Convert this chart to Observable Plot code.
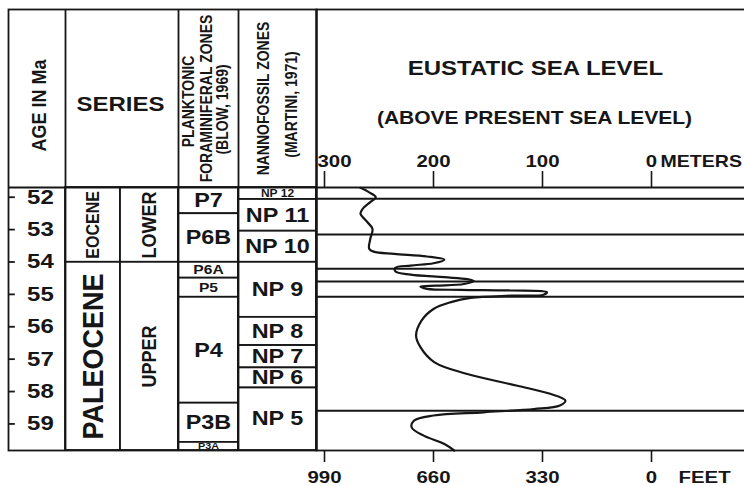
<!DOCTYPE html>
<html>
<head>
<meta charset="utf-8">
<script src="https://cdn.jsdelivr.net/npm/d3@7"></script>
<script src="https://cdn.jsdelivr.net/npm/@observablehq/plot@0.6"></script>
<style>
  html, body { margin: 0; padding: 0; background: #fff; overflow: hidden; }
  #wrap { position: relative; width: 744px; height: 486px; }
  #wrap svg { position: absolute; left: 0; top: 0; }
</style>
</head>
<body>
<div id="wrap"></div>
<script>
// ---------- data ----------
const ageDomain = [51.7, 59.82];
const ageTicks = [52, 53, 54, 55, 56, 57, 58, 59];

const epochs = [
  {name: "EOCENE", top: 51.7, base: 54.01},
  {name: "PALEOCENE", top: 54.01, base: 59.82}
];
const subEpochs = [
  {name: "LOWER", top: 51.7, base: 54.01},
  {name: "UPPER", top: 54.01, base: 59.82}
];
const foramZones = [
  {name: "P7", top: 51.7, base: 52.51},
  {name: "P6B", top: 52.51, base: 54.01},
  {name: "P6A", top: 54.01, base: 54.5},
  {name: "P5", top: 54.5, base: 55.09},
  {name: "P4", top: 55.09, base: 58.36},
  {name: "P3B", top: 58.36, base: 59.57},
  {name: "P3A", top: 59.57, base: 59.82}
];
const nannoZones = [
  {name: "NP 12", top: 51.7, base: 52.07},
  {name: "NP 11", top: 52.07, base: 53.05},
  {name: "NP 10", top: 53.05, base: 54.01},
  {name: "NP 9", top: 54.01, base: 55.71},
  {name: "NP 8", top: 55.71, base: 56.58},
  {name: "NP 7", top: 56.58, base: 57.27},
  {name: "NP 6", top: 57.27, base: 57.89},
  {name: "NP 5", top: 57.89, base: 59.82}
];

// sequence boundaries drawn across the sea-level panel (Ma)
const boundaryAges = [52.05, 53.15, 54.21, 54.60, 55.07, 58.59];

const meterTicks = [300, 200, 100, 0];
const feetTicks = [990, 660, 330, 0];
const feetPerMeter = 3.3;

// eustatic sea level (metres above present) vs age (Ma)
const seaAge = [51.71, 51.85, 52.00, 52.15, 52.36, 52.51, 52.72, 52.98, 53.29, 53.59,
  53.68, 53.75, 53.83, 53.93, 54.04, 54.11, 54.18, 54.29, 54.39, 54.47,
  54.53, 54.59, 54.68, 54.73, 54.76, 54.83, 54.86, 54.88, 54.93, 55.01,
  55.04, 55.11, 55.24, 55.45, 55.81, 56.27, 56.63, 57.10, 57.46, 57.82,
  58.07, 58.28, 58.43, 58.54, 58.64, 58.74, 58.90, 59.11, 59.36, 59.62, 59.82];
const seaMeters = [267, 259, 253, 258, 265, 267, 262, 256, 258, 259,
  255, 236, 206, 190, 200, 221, 235, 235, 221, 190,
  169, 163, 172, 197, 212, 206, 175, 129, 96, 99,
  129, 166, 184, 200, 211, 216, 212, 199, 169, 123,
  93, 79, 84, 108, 154, 200, 218, 220, 209, 190, 181];

// ---------- drawing ----------
const ink = "#161616";
const sw = 1.8;
const font = "'Liberation Sans', Arial, sans-serif";
const W = 744, H = 486, MT = 187, MB = 36;
const headerRise = -(MT - 9);

const yScale = {domain: ageDomain, range: [MT, H - MB], axis: null};
const B = {fontWeight: "bold", fill: ink, lineAnchor: "middle"};

const zoneCells = (zones, c) =>
  Plot.rect(zones, {x1: c, x2: c + 1, y1: "top", y2: "base", fill: "white", stroke: ink, strokeWidth: sw});
const mid = d => (d.top + d.base) / 2;
const labels = (zones, x, opts) => Plot.text(zones, {x, y: mid, text: "name", ...B, ...opts});

const left = Plot.plot({
  width: W, height: H,
  marginTop: MT, marginBottom: MB, marginLeft: 8, marginRight: W - 316,
  style: {background: "white", fontFamily: font},
  x: {type: "linear", domain: [0, 1, 2, 3, 4, 5], range: [8, 65, 120, 178, 238, 316], axis: null},
  y: yScale,
  marks: [
    zoneCells(epochs, 1),
    zoneCells(subEpochs, 2),
    zoneCells(foramZones, 3),
    zoneCells(nannoZones, 4),
    Plot.frame({stroke: ink, strokeWidth: sw, insetTop: headerRise}),
    Plot.ruleX([1, 3, 4, 5], {stroke: ink, strokeWidth: sw, insetTop: headerRise}),
    Plot.ruleY([ageDomain[0]], {stroke: ink, strokeWidth: sw}),
    // age axis
    Plot.ruleY(ageTicks, {x1: 0, x2: 0.12, stroke: ink, strokeWidth: sw}),
    Plot.text(ageTicks, {x: 0.56, y: d => d, text: d => String(d), fontSize: 20, ...B}),
    // cell labels
    labels(epochs.filter(d => d.name === "EOCENE"), 1.5, {rotate: -90, fontSize: 16}),
    labels(epochs.filter(d => d.name === "PALEOCENE"), 1.5, {rotate: -90, fontSize: 27}),
    labels(subEpochs, 2.5, {rotate: -90, fontSize: 18}),
    labels(foramZones.filter(d => d.base - d.top >= 0.7), 3.5, {fontSize: 19.5}),
    labels(foramZones.filter(d => d.base - d.top < 0.7 && d.base - d.top >= 0.4), 3.5, {fontSize: 13}),
    labels(foramZones.filter(d => d.base - d.top < 0.4), 3.5, {fontSize: 9}),
    labels(nannoZones.filter(d => d.base - d.top >= 0.5), 4.5, {fontSize: 19.5}),
    labels(nannoZones.filter(d => d.base - d.top < 0.5), 4.5, {fontSize: 10}),
    // header texts
    Plot.text(["AGE IN Ma"], {x: 0.545, frameAnchor: "top", dy: -82, rotate: -90, fontSize: 18, ...B}),
    Plot.text(["SERIES"], {x: 2, frameAnchor: "top", dy: -83, fontSize: 20, ...B}),
    Plot.text(["PLANKTONIC"], {x: 3.17, frameAnchor: "top", dy: -86, rotate: -90, fontSize: 14, ...B}),
    Plot.text(["FORAMINIFERAL ZONES"], {x: 3.47, frameAnchor: "top", dy: -89, rotate: -90, fontSize: 14, ...B}),
    Plot.text(["(BLOW, 1969)"], {x: 3.74, frameAnchor: "top", dy: -78, rotate: -90, fontSize: 14, ...B}),
    Plot.text(["NANNOFOSSIL ZONES"], {x: 4.33, frameAnchor: "top", dy: -89, rotate: -90, fontSize: 14, ...B}),
    Plot.text(["(MARTINI, 1971)"], {x: 4.69, frameAnchor: "top", dy: -83, rotate: -90, fontSize: 14, ...B})
  ]
});

const right = Plot.plot({
  width: W, height: H,
  marginTop: MT, marginBottom: MB, marginLeft: 316, marginRight: 0,
  style: {background: "transparent", fontFamily: font},
  x: {type: "linear", domain: [300, 0], range: [324, 651], axis: null},
  y: yScale,
  marks: [
    Plot.frame({stroke: ink, strokeWidth: sw, insetTop: headerRise, insetRight: -6}),
    Plot.ruleY([ageDomain[0]], {stroke: ink, strokeWidth: sw}),
    Plot.ruleY(boundaryAges, {stroke: ink, strokeWidth: 2}),
    // metres axis (top)
    Plot.ruleX(meterTicks, {y1: ageDomain[0], y2: ageDomain[0], insetTop: -16, stroke: ink, strokeWidth: 1.6}),
    Plot.text(meterTicks.slice(0, 1), {x: d => d, frameAnchor: "top", dy: -26, dx: -7, textAnchor: "start", text: d => String(d), fontSize: 17, ...B}),
    Plot.text(meterTicks.slice(1), {x: d => d, frameAnchor: "top", dy: -26, text: d => String(d), fontSize: 17, ...B}),
    Plot.text(["METERS"], {x: 0, frameAnchor: "top", dy: -26, dx: 9, textAnchor: "start", fontSize: 16.3, ...B}),
    // feet axis (bottom)
    Plot.ruleX(feetTicks, {x: d => d / feetPerMeter, y1: ageDomain[1], y2: ageDomain[1], insetBottom: -12, stroke: ink, strokeWidth: 1.6}),
    Plot.text(feetTicks, {x: d => d / feetPerMeter, frameAnchor: "bottom", dy: 27, text: d => String(d), fontSize: 17, ...B}),
    Plot.text(["FEET"], {x: 0, frameAnchor: "bottom", dy: 27, dx: 27, textAnchor: "start", fontSize: 17, ...B}),
    // titles
    Plot.text(["EUSTATIC SEA LEVEL"], {frameAnchor: "top", dx: 5, dy: -119, fontSize: 20, ...B}),
    Plot.text(["(ABOVE PRESENT SEA LEVEL)"], {frameAnchor: "top", dx: 4, dy: -69, fontSize: 17.5, ...B}),
    // curve
    Plot.line(seaAge.map((a, i) => ({age: a, m: seaMeters[i]})), {x: "m", y: "age", curve: "catmull-rom", stroke: ink, strokeWidth: 2.2})
  ]
});

// reproduce the horizontal stretch of the printed figure's lettering
function stretchText(svg) {
  svg.querySelectorAll("text").forEach(t => {
    let tr = t.getAttribute("transform");
    if (!tr) {
      const x = t.getAttribute("x") || 0, y = t.getAttribute("y") || 0;
      t.removeAttribute("x"); t.removeAttribute("y");
      tr = `translate(${x},${y})`;
    }
    const s = tr.includes("rotate") ? 1.12 : 1.2;
    t.setAttribute("transform", tr.replace(/^(translate\([^)]*\))/, `$1 scale(${s},1)`));
  });
}
stretchText(left);
stretchText(right);

const wrap = document.getElementById("wrap");
wrap.appendChild(left);
wrap.appendChild(right);
</script>
</body>
</html>
